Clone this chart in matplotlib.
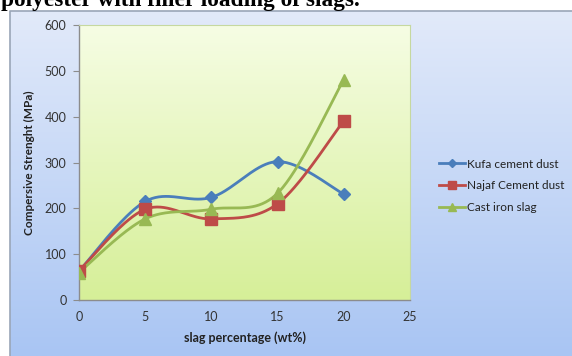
import numpy as np
import matplotlib
matplotlib.use("Agg")
import matplotlib.pyplot as plt
from matplotlib.colors import LinearSegmentedColormap

# ── data ──────────────────────────────────────────────
slag_pct = [0, 5, 10, 15, 20]
kufa = [63, 215, 224, 302, 231]
najaf = [64, 198, 177, 210, 391]
cast_iron = [60, 177, 198, 233, 481]

series = [
    ("Kufa cement dust", kufa, "#4a7ebb", "D", 6.5),
    ("Najaf Cement dust", najaf, "#be4b48", "s", 8),
    ("Cast iron slag", cast_iron, "#98b954", "^", 9),
]


def smooth(x, y, n=40):
    """Catmull-Rom curve through the points (Excel-style smoothed line)."""
    x = np.asarray(x, float)
    y = np.asarray(y, float)
    px = np.concatenate([[x[0]], x, [x[-1]]])
    py = np.concatenate([[y[0]], y, [y[-1]]])
    xs, ys = [], []
    t = np.linspace(0, 1, n)
    for i in range(1, len(px) - 2):
        p0, p1, p2, p3 = (np.array([px[j], py[j]]) for j in (i - 1, i, i + 1, i + 2))
        c1 = p1 + (p2 - p0) / 6
        c2 = p2 - (p3 - p1) / 6
        b = ((1 - t) ** 3)[:, None] * p1 + (3 * (1 - t) ** 2 * t)[:, None] * c1 \
            + (3 * (1 - t) * t ** 2)[:, None] * c2 + (t ** 3)[:, None] * p2
        xs.extend(b[:, 0])
        ys.extend(b[:, 1])
    return np.array(xs), np.array(ys)


plt.rcParams["font.family"] = ["Lato", "DejaVu Sans"]

W, H = 572, 356
fig = plt.figure(figsize=(W / 100, H / 100), dpi=100)

# chart frame with blue gradient
bg = fig.add_axes([10 / W, 0, 1 - 10 / W, (H - 11) / H])
bg.set_axis_off()
blue = LinearSegmentedColormap.from_list("bl", ["#e2eafa", "#a9c5f3"])
bg.imshow(np.linspace(0, 1, 256)[:, None], aspect="auto", cmap=blue,
          extent=[0, 1, 0, 1], origin="upper")
bg.set_xlim(0, 1)
bg.set_ylim(0, 1)
bg.plot([0, 0, 1], [0, 1, 1], color="#9aa6b8", lw=1.2, clip_on=False)

# heading line running off the top of the page
fig.text(1 / W, 1 - 6 / H, "polyester with filler loading of slags.",
         family="Liberation Serif", weight="bold", fontsize=16.8,
         ha="left", va="baseline")

ax = fig.add_axes([79 / W, (H - 300) / H, (410 - 79) / W, (300 - 25) / H])
green = LinearSegmentedColormap.from_list("gr", ["#f6fde4", "#d6ef98"])
ax.imshow(np.linspace(0, 1, 256)[:, None], aspect="auto", cmap=green,
          extent=[0, 25, 0, 600], origin="upper", zorder=0)

for name, vals, color, marker, ms in series:
    sx, sy = smooth(slag_pct, vals)
    ax.plot(sx, sy, color=color, lw=2, zorder=2)
    ax.plot(slag_pct, vals, linestyle="none", marker=marker, ms=ms,
            color=color, zorder=3)

ax.set_xlim(0, 25)
ax.set_ylim(0, 600)
ax.set_xticks(range(0, 26, 5))
ax.set_yticks(range(0, 601, 100))
for side in ("top", "right"):
    ax.spines[side].set_color("#c6d8a0")
    ax.spines[side].set_linewidth(0.8)
for side in ("left", "bottom"):
    ax.spines[side].set_color("#8c8c8c")
    ax.spines[side].set_linewidth(1)
ax.tick_params(length=4, width=0.8, color="#8c8c8c", labelsize=9,
               labelcolor="#333333", pad=5)
ax.tick_params(axis="x", length=0, pad=8)
ax.set_xlabel("slag percentage (wt%)", fontsize=9, weight="bold",
              color="#222222", labelpad=6)
ax.set_ylabel("Compersive Strenght (MPa)", fontsize=8.5, weight="bold",
              color="#222222", labelpad=7)

handles = [plt.Line2D([], [], color=c, lw=2, marker=m, ms=ms * 0.7)
           for _, _, c, m, ms in series]
fig.legend(handles, [s[0] for s in series], loc="upper left",
           bbox_to_anchor=(428 / W, 1 - 148 / H), frameon=False,
           fontsize=8.5, handlelength=2.2, handletextpad=0.2,
           labelspacing=0.9, labelcolor="#222222")

fig.savefig("out.png", dpi=100)
